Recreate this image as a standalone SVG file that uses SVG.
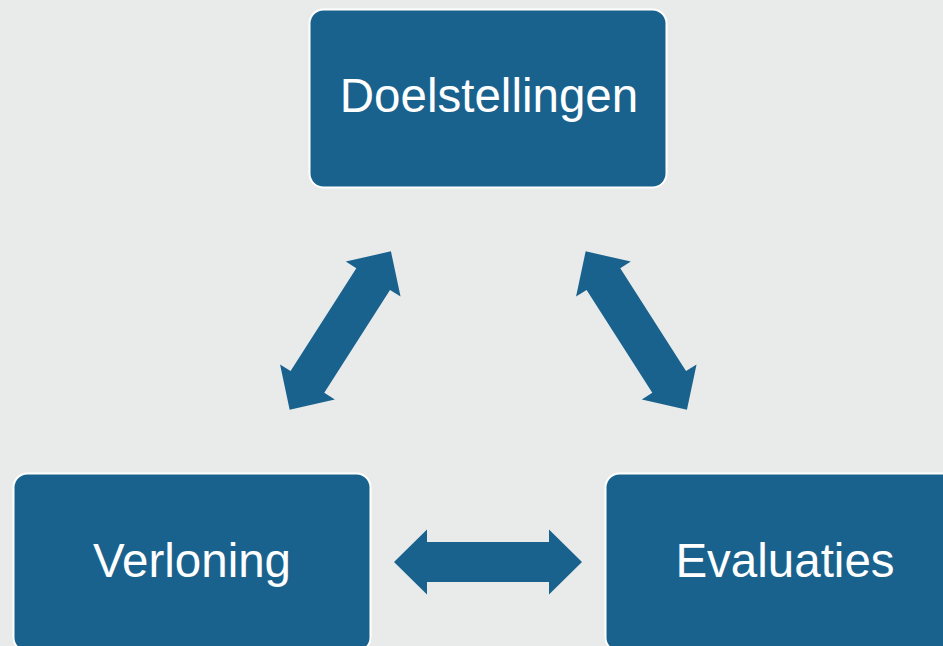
<svg xmlns="http://www.w3.org/2000/svg" width="943" height="646" viewBox="0 0 943 646">
<defs>
<style>
.node{fill:#1a628e;stroke:#ffffff;stroke-width:2}
.label{fill:#ffffff;font-family:"Liberation Sans",Arial,sans-serif;font-size:47.5px;text-anchor:middle}
.arrow{fill:#1a628e}
</style>
<path id="dbl" d="M-94,0 L-61,-32.5 L-61,-20 L61,-20 L61,-32.5 L94,0 L61,32.5 L61,20 L-61,20 L-61,32.5 Z"/>
</defs>
<rect width="943" height="646" fill="#e9ebeb"/>
<g id="connectors" class="arrow">
<use href="#dbl" transform="translate(340.3,330.5) rotate(-57.4)"/>
<use href="#dbl" transform="translate(636.3,330.5) rotate(57.4)"/>
<use href="#dbl" transform="translate(488,562)"/>
</g>
<g id="node-doelstellingen">
<rect class="node" x="309.5" y="9.5" width="357" height="178" rx="14"/>
<text class="label" x="489" y="112">Doelstellingen</text>
</g>
<g id="node-verloning">
<rect class="node" x="13.5" y="473.5" width="357" height="178" rx="14"/>
<text class="label" x="192" y="577">Verloning</text>
</g>
<g id="node-evaluaties">
<rect class="node" x="605.5" y="473.5" width="357" height="178" rx="14"/>
<text class="label" x="785" y="577">Evaluaties</text>
</g>
</svg>
